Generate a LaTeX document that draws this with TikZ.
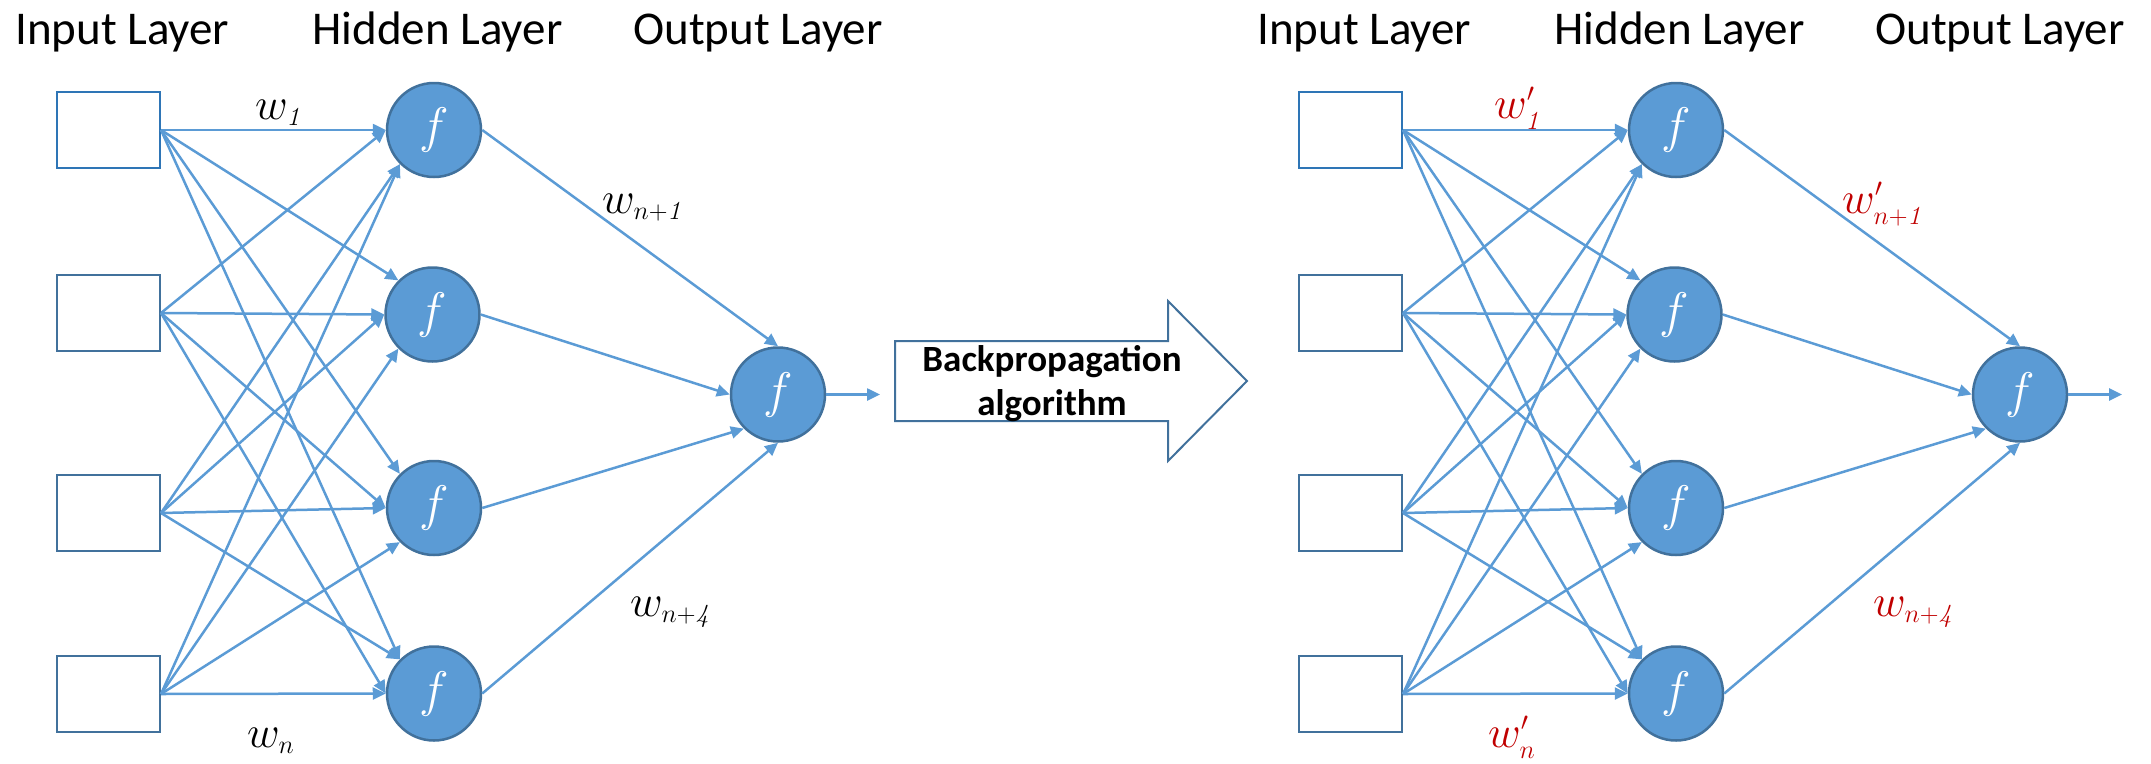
\RequirePackage{fix-cm}
\documentclass[tikz,border=0pt]{standalone}
\usepackage{fontspec}
\newfontfamily\calib{Carlito}
\usetikzlibrary{arrows.meta}
\DeclareMathSizes{44}{44}{26}{20}
\DeclareMathSizes{50}{50}{30}{22}
\definecolor{lineblue}{HTML}{5B9BD5}
\definecolor{darkblue}{HTML}{41719C}
\definecolor{boxblue}{HTML}{2E75B6}
\definecolor{wred}{HTML}{C00000}
\tikzset{
 inbox/.style={draw=darkblue, line width=2pt, minimum width=103pt, minimum height=76pt, inner sep=0pt},
 neuron/.style={circle, draw=darkblue, line width=2.5pt, fill=lineblue, minimum size=94pt, inner sep=0pt, text=white, font=\fontsize{50}{50}\selectfont},
 conn/.style={draw=lineblue, line width=2.5pt, -{Triangle[length=13pt,width=12pt]}},
 header/.style={font=\calib\fontsize{47}{47}\selectfont, anchor=base, inner sep=0pt},
 wlab/.style={font=\fontsize{45}{45}\selectfont, anchor=base west, inner sep=0pt},
 bigarrow/.style={draw=darkblue, line width=2pt, fill=white},
 bptext/.style={font=\calib\bfseries\fontsize{37}{44}\selectfont, anchor=base, inner sep=0pt},
}
\DeclareMathSizes{45}{45}{26}{20}
\newcommand{\nnet}[2]{%
\begin{scope}[xshift=#2]
\node[inbox, draw=boxblue] (#1i1) at (108.5,130) {};
\node[inbox] (#1i2) at (108.5,313) {};
\node[inbox] (#1i3) at (108.5,513) {};
\node[inbox] (#1i4) at (108.5,694) {};
\node[neuron] (#1h1) at (434,130) {$f$};
\node[neuron] (#1h2) at (432.5,314.5) {$f$};
\node[neuron] (#1h3) at (434,508) {$f$};
\node[neuron] (#1h4) at (434,693.5) {$f$};
\node[neuron] (#1o) at (778,394.5) {$f$};
\coordinate (#1end) at (880,394.5);
\draw[conn] (#1i1.east) -- (#1h1.west);
\draw[conn] (#1i1.east) -- (#1h2.north west);
\draw[conn] (#1i1.east) -- (#1h3.north west);
\draw[conn] (#1i1.east) -- (#1h4.north west);
\draw[conn] (#1i2.east) -- (#1h1.west);
\draw[conn] (#1i2.east) -- (#1h2.west);
\draw[conn] (#1i2.east) -- (#1h3.west);
\draw[conn] (#1i2.east) -- (#1h4.west);
\draw[conn] (#1i3.east) -- (#1h1.south west);
\draw[conn] (#1i3.east) -- (#1h2.west);
\draw[conn] (#1i3.east) -- (#1h3.west);
\draw[conn] (#1i3.east) -- (#1h4.north west);
\draw[conn] (#1i4.east) -- (#1h1.south west);
\draw[conn] (#1i4.east) -- (#1h2.south west);
\draw[conn] (#1i4.east) -- (#1h3.south west);
\draw[conn] (#1i4.east) -- (#1h4.west);
\draw[conn] (#1h1.east) -- (#1o.north);
\draw[conn] (#1h2.east) -- (#1o.west);
\draw[conn] (#1h3.east) -- (#1o.south west);
\draw[conn] (#1h4.east) -- (#1o.south);
\draw[conn] (#1o.east) -- (#1end);
\node[header, anchor=base west] (#1hin) at (15,44) {Input Layer};
\node[header] (#1hhid) at (437.5,44) {Hidden Layer};
\node[header] (#1hout) at (758,44) {Output Layer};
\end{scope}}
\begin{document}
\begin{tikzpicture}[x=1pt,y=-1pt]
\useasboundingbox (0,0) rectangle (2151,763);
\nnet{L}{0pt}
\nnet{R}{1242pt}
% labels left
\node[wlab] (lw1) at (255,119) {$w_{\mathit{1}}$};
\node[wlab] (lwn) at (247,747) {$w_{n}$};
\node[wlab] (lwn1) at (602,213) {$w_{n+\mathit{1}}$};
\node[wlab] (lwn4) at (630,616) {$w_{n+\mathit{4}}$};
% labels right
\node[wlab, text=wred] (rw1) at (1494,118) {$w'_{\mathit{1}}$};
\node[wlab, text=wred] (rwn) at (1488,747) {$w'_{n}$};
\node[wlab, text=wred] (rwn1) at (1842,213) {$w'_{n+\mathit{1}}$};
\node[wlab, text=wred] (rwn4) at (1873,616) {$w_{n+\mathit{4}}$};
% big arrow
\draw[bigarrow] (895,341) -- (1168,341) -- (1168,301) -- (1247,381) -- (1168,461) -- (1168,421) -- (895,421) -- cycle;
\node[bptext] (bp1) at (1052,371) {Backpropagation};
\node[bptext] (bp2) at (1052,415) {algorithm};
\end{tikzpicture}
\end{document}
